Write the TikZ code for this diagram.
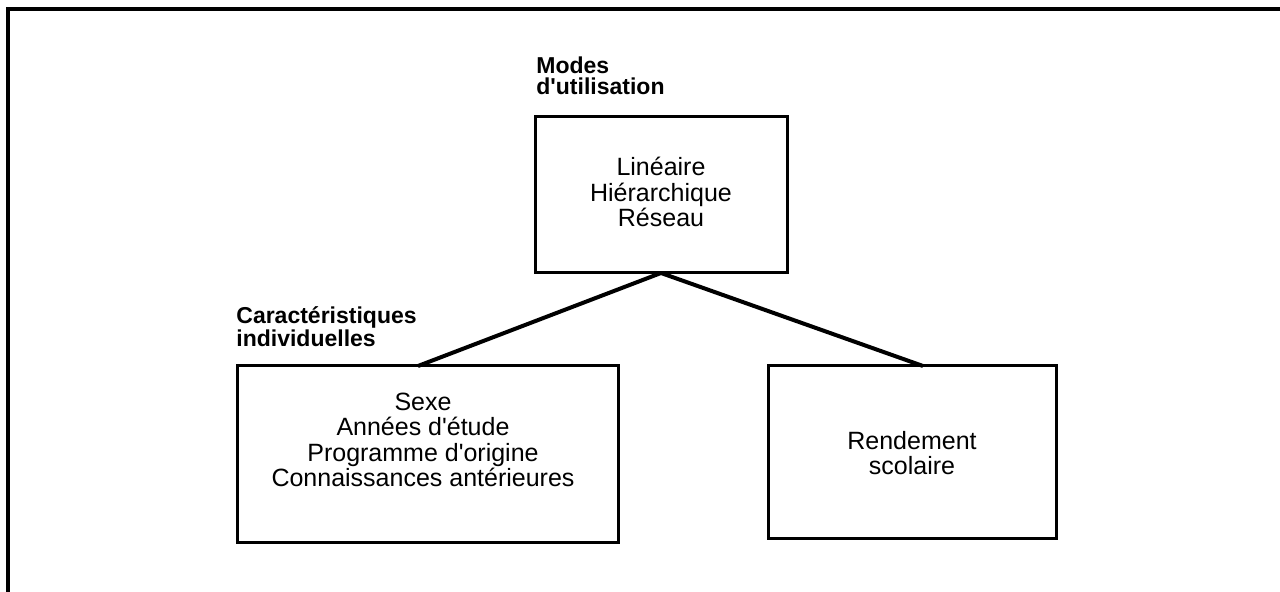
\documentclass[tikz,border=0pt]{standalone}
\usepackage{fontspec}
\setmainfont{Liberation Sans}[Ligatures=TeXOff]
\tikzset{
  boite/.style={draw, rectangle, line width=1.5pt, outer sep=0pt, inner sep=0pt},
  titre/.style={font=\fontsize{11.5}{10.5}\selectfont\bfseries, align=left, anchor=base west, inner sep=0pt},
  contenu/.style={font=\fontsize{12.5}{12.75}\selectfont, align=center, anchor=base, inner sep=0pt},
}

\begin{document}
\begin{tikzpicture}[x=0.5pt,y=-0.5pt]
  \useasboundingbox (0,0) rectangle (1280,592);
  % cadre (coupe a droite et en bas)
  \draw[line width=2pt] (8,600) -- (8,9) -- (1290,9);

  % les trois boites
  \node [boite, minimum width=126pt, minimum height=78pt](haut) at (661,195) {};
  \node [boite, minimum width=190.5pt, minimum height=88.5pt](gauche) at (427.5,454.5) {};
  \node [boite, minimum width=144pt, minimum height=86.5pt](droite) at (912,452.5) {};

  % titres au-dessus des boites (base = derniere ligne)
  \node [titre](modes) at (536,95) {Modes\\d'utilisation};
  \node [titre](carac) at (236,347) {Caractéristiques\\individuelles};

  % contenu des boites
  \node [contenu](modesTxt) at (661,227) {Linéaire\\Hiérarchique\\Réseau};
  \node [contenu](caracTxt) at (423,487) {Sexe\\Années d'étude\\Programme d'origine\\Connaissances antérieures};
  \node [contenu](rendTxt) at (912,475) {Rendement\\scolaire};

  % liens
  \draw[line width=2pt] (haut.south) -- ([xshift=90.5pt]gauche.north west);
  \draw[line width=2pt] (haut.south) -- ([xshift=77.5pt]droite.north west);
\end{tikzpicture}
\end{document}
